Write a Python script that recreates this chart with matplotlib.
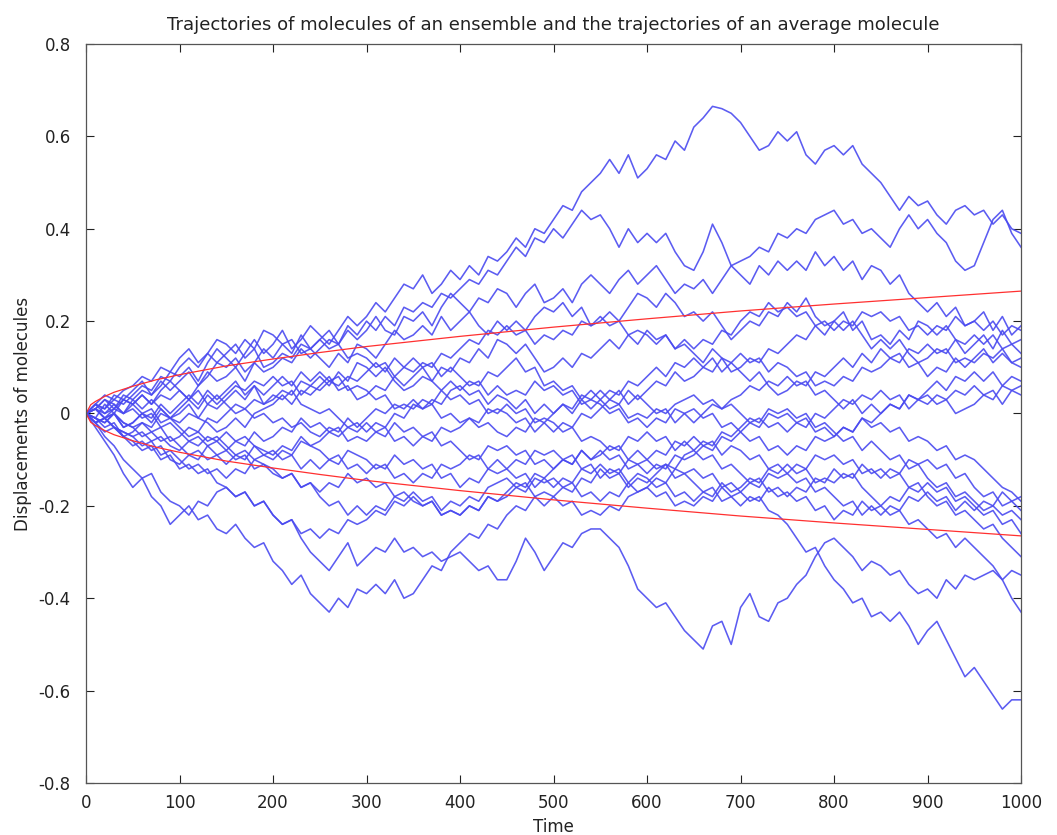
import numpy as np
import matplotlib
matplotlib.use("Agg")
import matplotlib.pyplot as plt

plt.rcParams['font.family'] = ['DejaVu Sans']

# time grid of the traced samples (every 10 steps)
time = np.arange(0, 1001, 10)

# trajectories of the molecules, every 10 time steps
traj_a = [0,
    0.02, 0.01, 0.04, 0.03, 0.05, 0.07, 0.04, 0.06, 0.09, 0.08,
    0.10, 0.07, 0.11, 0.14, 0.12, 0.10, 0.13, 0.16, 0.13, 0.15,
    0.18, 0.14, 0.16, 0.19, 0.17, 0.15, 0.18, 0.21, 0.19, 0.21,
    0.24, 0.22, 0.25, 0.28, 0.27, 0.30, 0.26, 0.28, 0.31, 0.29,
    0.32, 0.30, 0.34, 0.33, 0.35, 0.38, 0.36, 0.40, 0.39, 0.42,
    0.45, 0.44, 0.48, 0.50, 0.52, 0.55, 0.52, 0.56, 0.51, 0.53,
    0.56, 0.55, 0.59, 0.57, 0.62, 0.64, 0.665, 0.66, 0.65, 0.63,
    0.60, 0.57, 0.58, 0.61, 0.59, 0.61, 0.56, 0.54, 0.57, 0.58,
    0.56, 0.58, 0.54, 0.52, 0.50, 0.47, 0.44, 0.47, 0.45, 0.46,
    0.43, 0.41, 0.44, 0.45, 0.43, 0.44, 0.41, 0.43, 0.40, 0.39]
traj_b = [0,
    0.01, 0.03, 0.02, 0.00, 0.03, 0.05, 0.04, 0.07, 0.05, 0.07,
    0.09, 0.06, 0.08, 0.11, 0.10, 0.12, 0.09, 0.11, 0.14, 0.12,
    0.15, 0.13, 0.17, 0.14, 0.16, 0.18, 0.15, 0.19, 0.17, 0.20,
    0.18, 0.21, 0.19, 0.23, 0.22, 0.24, 0.23, 0.26, 0.25, 0.27,
    0.29, 0.28, 0.31, 0.30, 0.33, 0.36, 0.34, 0.38, 0.37, 0.40,
    0.38, 0.41, 0.44, 0.42, 0.43, 0.40, 0.36, 0.40, 0.37, 0.39,
    0.37, 0.39, 0.35, 0.32, 0.31, 0.35, 0.41, 0.37, 0.32, 0.33,
    0.34, 0.36, 0.35, 0.39, 0.38, 0.40, 0.39, 0.42, 0.43, 0.44,
    0.41, 0.42, 0.39, 0.40, 0.38, 0.36, 0.40, 0.43, 0.40, 0.42,
    0.39, 0.37, 0.33, 0.31, 0.32, 0.37, 0.42, 0.44, 0.39, 0.36]
traj_c = [0,
    -0.01, 0.02, 0.00, 0.03, 0.02, 0.04, 0.02, 0.05, 0.07, 0.05,
    0.03, 0.06, 0.09, 0.07, 0.08, 0.10, 0.07, 0.11, 0.09, 0.10,
    0.12, 0.11, 0.14, 0.12, 0.14, 0.16, 0.15, 0.18, 0.16, 0.18,
    0.21, 0.18, 0.17, 0.21, 0.20, 0.22, 0.19, 0.23, 0.26, 0.24,
    0.22, 0.25, 0.24, 0.27, 0.26, 0.23, 0.26, 0.28, 0.24, 0.25,
    0.27, 0.24, 0.28, 0.30, 0.28, 0.26, 0.29, 0.31, 0.28, 0.30,
    0.32, 0.29, 0.26, 0.28, 0.27, 0.29, 0.26, 0.29, 0.32, 0.30,
    0.28, 0.32, 0.30, 0.33, 0.31, 0.33, 0.31, 0.35, 0.32, 0.34,
    0.31, 0.33, 0.29, 0.32, 0.31, 0.28, 0.30, 0.26, 0.24, 0.22,
    0.24, 0.21, 0.23, 0.19, 0.20, 0.22, 0.18, 0.21, 0.17, 0.19]
traj_d = [0,
    0.02, 0.04, 0.03, 0.05, 0.06, 0.08, 0.07, 0.10, 0.09, 0.12,
    0.14, 0.11, 0.13, 0.16, 0.15, 0.13, 0.16, 0.14, 0.18, 0.17,
    0.15, 0.16, 0.13, 0.14, 0.12, 0.10, 0.13, 0.11, 0.15, 0.14,
    0.12, 0.15, 0.18, 0.16, 0.17, 0.19, 0.17, 0.21, 0.18, 0.20,
    0.22, 0.19, 0.17, 0.20, 0.18, 0.20, 0.18, 0.21, 0.23, 0.22,
    0.24, 0.21, 0.23, 0.19, 0.20, 0.22, 0.20, 0.23, 0.26, 0.25,
    0.23, 0.26, 0.24, 0.21, 0.22, 0.20, 0.22, 0.19, 0.16, 0.18,
    0.20, 0.19, 0.22, 0.21, 0.24, 0.22, 0.25, 0.21, 0.19, 0.20,
    0.22, 0.18, 0.20, 0.16, 0.17, 0.15, 0.18, 0.16, 0.20, 0.19,
    0.17, 0.19, 0.16, 0.13, 0.15, 0.17, 0.14, 0.18, 0.15, 0.16]
traj_e = [0,
    0.01, -0.01, 0.00, -0.03, -0.02, 0.00, -0.01, 0.02, 0.00, 0.02,
    0.04, 0.02, 0.05, 0.03, 0.05, 0.07, 0.04, 0.06, 0.02, 0.03,
    0.05, 0.04, 0.07, 0.06, 0.08, 0.06, 0.09, 0.07, 0.11, 0.10,
    0.08, 0.10, 0.07, 0.05, 0.06, 0.08, 0.07, 0.10, 0.09, 0.12,
    0.11, 0.14, 0.12, 0.16, 0.15, 0.13, 0.15, 0.12, 0.09, 0.10,
    0.12, 0.10, 0.13, 0.12, 0.14, 0.16, 0.14, 0.17, 0.15, 0.18,
    0.16, 0.17, 0.14, 0.15, 0.13, 0.11, 0.14, 0.12, 0.09, 0.10,
    0.12, 0.11, 0.14, 0.13, 0.15, 0.17, 0.16, 0.19, 0.17, 0.20,
    0.18, 0.20, 0.17, 0.14, 0.16, 0.14, 0.16, 0.13, 0.11, 0.12,
    0.14, 0.13, 0.16, 0.15, 0.17, 0.15, 0.17, 0.14, 0.15, 0.13]
traj_f = [0,
    0.02, 0.00, 0.01, 0.04, 0.03, 0.01, 0.03, 0.01, -0.01, 0.00,
    0.02, -0.01, -0.02, -0.04, -0.03, -0.01, -0.03, 0.00, 0.01, 0.02,
    0.04, 0.02, 0.05, 0.04, 0.06, 0.08, 0.05, 0.06, 0.03, 0.04,
    0.06, 0.05, 0.08, 0.06, 0.08, 0.10, 0.07, 0.05, 0.07, 0.05,
    0.07, 0.06, 0.09, 0.08, 0.10, 0.12, 0.09, 0.10, 0.06, 0.07,
    0.05, 0.06, 0.03, 0.05, 0.03, 0.05, 0.04, 0.07, 0.06, 0.08,
    0.10, 0.08, 0.11, 0.10, 0.12, 0.10, 0.12, 0.09, 0.11, 0.09,
    0.07, 0.09, 0.06, 0.04, 0.05, 0.07, 0.06, 0.09, 0.08, 0.10,
    0.12, 0.10, 0.13, 0.11, 0.14, 0.12, 0.13, 0.10, 0.11, 0.08,
    0.10, 0.09, 0.12, 0.10, 0.12, 0.14, 0.11, 0.13, 0.11, 0.10]
traj_g = [0,
    -0.01, -0.02, 0.00, -0.02, -0.03, -0.02, -0.04, -0.03, -0.06, -0.05,
    -0.03, -0.04, -0.01, -0.02, 0.00, 0.02, 0.01, 0.03, 0.02, 0.04,
    0.03, 0.05, 0.02, 0.01, 0.00, 0.01, -0.01, -0.03, -0.02, -0.04,
    -0.02, -0.03, 0.00, -0.01, 0.02, 0.01, 0.03, 0.02, 0.05, 0.06,
    0.04, 0.05, 0.02, 0.04, 0.03, 0.01, 0.03, 0.00, 0.02, 0.00,
    0.02, 0.01, 0.04, 0.03, 0.05, 0.03, 0.05, 0.02, 0.04, 0.02,
    0.00, 0.01, -0.02, 0.00, -0.02, 0.00, 0.02, 0.01, 0.03, 0.04,
    0.06, 0.05, 0.07, 0.06, 0.08, 0.06, 0.07, 0.04, 0.05, 0.03,
    0.01, 0.03, 0.00, 0.02, 0.00, 0.02, 0.01, 0.04, 0.03, 0.05,
    0.07, 0.05, 0.08, 0.07, 0.09, 0.07, 0.09, 0.06, 0.08, 0.07]
traj_h = [0,
    0.01, -0.01, 0.01, 0.00, 0.02, 0.04, 0.02, 0.04, 0.03, 0.05,
    0.03, 0.05, 0.02, 0.04, 0.02, 0.00, 0.01, -0.01, 0.00, -0.02,
    -0.01, -0.03, -0.02, -0.04, -0.05, -0.03, -0.04, -0.01, -0.03, -0.01,
    0.01, 0.00, 0.02, 0.01, 0.03, 0.01, 0.02, -0.01, 0.00, -0.02,
    -0.01, -0.03, -0.02, -0.04, -0.05, -0.03, -0.04, -0.01, -0.02, 0.00,
    0.02, 0.00, 0.03, 0.01, 0.03, 0.01, 0.02, -0.01, 0.00, -0.01,
    0.01, 0.00, 0.02, 0.03, 0.04, 0.02, 0.03, 0.01, 0.02, 0.00,
    -0.02, -0.01, -0.03, -0.02, -0.04, -0.02, -0.03, 0.00, -0.01, 0.01,
    0.03, 0.02, 0.04, 0.03, 0.05, 0.03, 0.04, 0.01, 0.03, 0.02,
    0.04, 0.03, 0.05, 0.04, 0.06, 0.04, 0.05, 0.02, 0.05, 0.04]
traj_q = [0,
    0.02, 0.01, 0.03, 0.02, 0.04, 0.06, 0.05, 0.08, 0.07, 0.10,
    0.12, 0.10, 0.13, 0.11, 0.13, 0.15, 0.12, 0.14, 0.10, 0.11,
    0.13, 0.12, 0.15, 0.14, 0.16, 0.14, 0.15, 0.12, 0.13, 0.12,
    0.10, 0.11, 0.08, 0.10, 0.09, 0.11, 0.10, 0.13, 0.12, 0.14,
    0.16, 0.15, 0.18, 0.17, 0.19, 0.17, 0.18, 0.15, 0.17, 0.16,
    0.18, 0.17, 0.20, 0.19, 0.21, 0.19, 0.20, 0.17, 0.18, 0.17,
    0.15, 0.17, 0.14, 0.16, 0.14, 0.16, 0.15, 0.18, 0.17, 0.20,
    0.22, 0.21, 0.24, 0.22, 0.23, 0.21, 0.22, 0.19, 0.20, 0.18,
    0.20, 0.19, 0.22, 0.21, 0.22, 0.20, 0.21, 0.18, 0.19, 0.17,
    0.19, 0.18, 0.21, 0.19, 0.20, 0.18, 0.20, 0.17, 0.19, 0.18]
traj_r = [0,
    -0.01, -0.03, -0.02, -0.05, -0.04, -0.02, -0.03, 0.00, -0.01, -0.02,
    0.00, -0.01, 0.02, 0.01, 0.03, 0.05, 0.03, 0.06, 0.04, 0.06,
    0.08, 0.06, 0.09, 0.07, 0.09, 0.07, 0.08, 0.05, 0.06, 0.05,
    0.03, 0.04, 0.01, 0.02, 0.01, 0.03, 0.02, 0.05, 0.03, 0.04,
    0.02, 0.03, 0.00, 0.01, 0.00, -0.02, -0.01, -0.04, -0.02, -0.04,
    -0.02, -0.03, 0.00, -0.01, 0.01, 0.03, 0.02, 0.05, 0.03, 0.05,
    0.07, 0.06, 0.09, 0.07, 0.08, 0.10, 0.09, 0.12, 0.11, 0.13,
    0.11, 0.12, 0.09, 0.11, 0.10, 0.08, 0.09, 0.06, 0.07, 0.06,
    0.08, 0.07, 0.10, 0.09, 0.10, 0.12, 0.11, 0.14, 0.13, 0.15,
    0.13, 0.14, 0.11, 0.12, 0.11, 0.13, 0.12, 0.14, 0.11, 0.12]
traj_i = [0,
    0.01, -0.01, 0.00, -0.03, -0.02, 0.00, -0.02, 0.01, -0.01, 0.01,
    0.03, 0.01, 0.04, 0.02, 0.04, 0.06, 0.05, 0.07, 0.06, 0.08,
    0.06, 0.07, 0.04, 0.06, 0.05, 0.07, 0.06, 0.08, 0.07, 0.09,
    0.11, 0.09, 0.12, 0.10, 0.12, 0.10, 0.11, 0.08, 0.10, 0.08,
    0.06, 0.07, 0.04, 0.06, 0.04, 0.05, 0.04, 0.07, 0.05, 0.06,
    0.04, 0.05, 0.02, 0.03, 0.02, 0.00, 0.01, -0.02, -0.01, -0.03,
    -0.01, -0.02, 0.01, 0.00, 0.01, -0.01, 0.00, -0.03, -0.02, -0.04,
    -0.02, -0.03, 0.00, -0.01, 0.00, -0.02, -0.01, -0.04, -0.03, -0.05,
    -0.03, -0.04, -0.01, -0.03, -0.02, -0.04, -0.03, -0.06, -0.05, -0.06,
    -0.08, -0.07, -0.10, -0.09, -0.10, -0.12, -0.14, -0.16, -0.17, -0.19]
traj_j = [0,
    -0.02, -0.01, -0.03, -0.04, -0.05, -0.04, -0.06, -0.05, -0.07, -0.08,
    -0.06, -0.07, -0.05, -0.06, -0.04, -0.06, -0.05, -0.07, -0.08, -0.09,
    -0.07, -0.08, -0.05, -0.07, -0.06, -0.04, -0.05, -0.03, -0.04, -0.02,
    -0.04, -0.03, -0.06, -0.05, -0.07, -0.05, -0.06, -0.03, -0.04, -0.03,
    -0.01, -0.02, 0.01, 0.00, 0.02, 0.00, 0.01, -0.02, -0.01, -0.02,
    -0.04, -0.03, -0.06, -0.05, -0.06, -0.08, -0.07, -0.10, -0.08, -0.10,
    -0.08, -0.09, -0.06, -0.07, -0.05, -0.07, -0.06, -0.09, -0.07, -0.08,
    -0.10, -0.09, -0.12, -0.11, -0.13, -0.11, -0.12, -0.09, -0.10, -0.09,
    -0.11, -0.10, -0.13, -0.12, -0.14, -0.12, -0.13, -0.10, -0.11, -0.10,
    -0.12, -0.11, -0.14, -0.13, -0.16, -0.18, -0.17, -0.20, -0.19, -0.21]
traj_k = [0,
    -0.01, -0.02, 0.00, -0.02, -0.03, -0.05, -0.04, -0.06, -0.05, -0.07,
    -0.09, -0.08, -0.10, -0.09, -0.11, -0.09, -0.10, -0.07, -0.09, -0.08,
    -0.10, -0.09, -0.12, -0.10, -0.12, -0.10, -0.11, -0.08, -0.09, -0.10,
    -0.12, -0.11, -0.14, -0.13, -0.15, -0.13, -0.14, -0.11, -0.12, -0.11,
    -0.09, -0.10, -0.07, -0.08, -0.07, -0.09, -0.08, -0.11, -0.10, -0.12,
    -0.10, -0.11, -0.08, -0.10, -0.09, -0.07, -0.08, -0.05, -0.06, -0.04,
    -0.06, -0.05, -0.08, -0.06, -0.08, -0.06, -0.07, -0.04, -0.05, -0.03,
    -0.01, -0.02, 0.01, 0.00, 0.01, -0.01, 0.00, -0.03, -0.02, -0.04,
    -0.06, -0.05, -0.08, -0.06, -0.08, -0.10, -0.09, -0.12, -0.11, -0.14,
    -0.16, -0.15, -0.18, -0.17, -0.19, -0.21, -0.20, -0.22, -0.21, -0.23]
traj_l = [0,
    -0.02, -0.04, -0.03, -0.05, -0.07, -0.06, -0.08, -0.07, -0.10, -0.11,
    -0.09, -0.10, -0.07, -0.09, -0.08, -0.10, -0.09, -0.12, -0.11, -0.13,
    -0.14, -0.13, -0.16, -0.15, -0.17, -0.15, -0.16, -0.13, -0.15, -0.14,
    -0.16, -0.15, -0.18, -0.17, -0.19, -0.20, -0.19, -0.22, -0.21, -0.22,
    -0.20, -0.21, -0.18, -0.19, -0.18, -0.16, -0.17, -0.14, -0.15, -0.14,
    -0.16, -0.15, -0.18, -0.17, -0.19, -0.17, -0.18, -0.15, -0.17, -0.16,
    -0.14, -0.15, -0.12, -0.13, -0.12, -0.14, -0.13, -0.16, -0.15, -0.17,
    -0.15, -0.16, -0.13, -0.14, -0.13, -0.15, -0.14, -0.17, -0.16, -0.18,
    -0.20, -0.19, -0.22, -0.20, -0.22, -0.20, -0.21, -0.18, -0.19, -0.17,
    -0.19, -0.18, -0.21, -0.19, -0.21, -0.19, -0.20, -0.17, -0.19, -0.18]
traj_s = [0,
    0.01, 0.00, 0.02, 0.00, 0.01, -0.01, 0.00, -0.03, -0.02, -0.04,
    -0.06, -0.05, -0.07, -0.06, -0.08, -0.06, -0.07, -0.04, -0.06, -0.05,
    -0.03, -0.04, -0.01, -0.03, -0.02, -0.04, -0.03, -0.06, -0.05, -0.06,
    -0.04, -0.05, -0.02, -0.04, -0.03, -0.05, -0.04, -0.07, -0.06, -0.08,
    -0.10, -0.09, -0.12, -0.10, -0.12, -0.14, -0.13, -0.16, -0.14, -0.16,
    -0.14, -0.15, -0.12, -0.13, -0.11, -0.13, -0.12, -0.15, -0.13, -0.14,
    -0.16, -0.15, -0.18, -0.17, -0.19, -0.17, -0.18, -0.15, -0.17, -0.16,
    -0.14, -0.15, -0.12, -0.13, -0.11, -0.13, -0.12, -0.15, -0.14, -0.15,
    -0.13, -0.14, -0.11, -0.13, -0.12, -0.14, -0.13, -0.16, -0.15, -0.18,
    -0.20, -0.19, -0.22, -0.21, -0.23, -0.25, -0.24, -0.27, -0.29, -0.31]
traj_l3 = [0,
    -0.03, -0.06, -0.09, -0.13, -0.16, -0.14, -0.18, -0.20, -0.24, -0.22,
    -0.20, -0.23, -0.22, -0.25, -0.26, -0.24, -0.27, -0.29, -0.28, -0.32,
    -0.34, -0.37, -0.35, -0.39, -0.41, -0.43, -0.40, -0.42, -0.38, -0.39,
    -0.37, -0.39, -0.36, -0.40, -0.39, -0.36, -0.33, -0.34, -0.30, -0.28,
    -0.26, -0.27, -0.24, -0.25, -0.22, -0.20, -0.21, -0.18, -0.20, -0.18,
    -0.16, -0.17, -0.14, -0.15, -0.12, -0.14, -0.13, -0.16, -0.14, -0.15,
    -0.13, -0.11, -0.12, -0.09, -0.08, -0.10, -0.09, -0.12, -0.11, -0.13,
    -0.15, -0.14, -0.17, -0.16, -0.18, -0.16, -0.17, -0.14, -0.15, -0.12,
    -0.14, -0.13, -0.16, -0.18, -0.20, -0.18, -0.19, -0.16, -0.17, -0.15,
    -0.17, -0.16, -0.19, -0.18, -0.20, -0.22, -0.21, -0.24, -0.23, -0.26]
traj_l2 = [0,
    -0.02, -0.01, -0.03, -0.05, -0.06, -0.08, -0.07, -0.10, -0.09, -0.12,
    -0.11, -0.13, -0.12, -0.15, -0.16, -0.18, -0.17, -0.20, -0.19, -0.22,
    -0.24, -0.23, -0.27, -0.30, -0.32, -0.34, -0.31, -0.28, -0.33, -0.31,
    -0.29, -0.30, -0.27, -0.30, -0.29, -0.31, -0.30, -0.32, -0.31, -0.30,
    -0.32, -0.34, -0.33, -0.36, -0.36, -0.32, -0.27, -0.30, -0.34, -0.31,
    -0.28, -0.29, -0.26, -0.25, -0.25, -0.27, -0.29, -0.33, -0.38, -0.40,
    -0.42, -0.41, -0.44, -0.47, -0.49, -0.51, -0.46, -0.45, -0.50, -0.42,
    -0.39, -0.44, -0.45, -0.41, -0.40, -0.37, -0.35, -0.31, -0.28, -0.27,
    -0.29, -0.31, -0.34, -0.32, -0.33, -0.35, -0.34, -0.37, -0.39, -0.38,
    -0.40, -0.36, -0.38, -0.35, -0.36, -0.35, -0.34, -0.36, -0.34, -0.35]
traj_p = [0,
    0.01, 0.03, 0.01, 0.03, 0.02, 0.00, 0.01, -0.02, -0.01, -0.03,
    -0.05, -0.04, -0.06, -0.05, -0.07, -0.09, -0.08, -0.10, -0.09, -0.10,
    -0.08, -0.09, -0.06, -0.07, -0.08, -0.10, -0.09, -0.12, -0.11, -0.13,
    -0.11, -0.12, -0.09, -0.11, -0.10, -0.12, -0.11, -0.14, -0.13, -0.16,
    -0.14, -0.15, -0.12, -0.13, -0.12, -0.10, -0.11, -0.08, -0.09, -0.08,
    -0.10, -0.09, -0.12, -0.11, -0.14, -0.12, -0.13, -0.10, -0.11, -0.10,
    -0.12, -0.11, -0.14, -0.13, -0.15, -0.17, -0.16, -0.19, -0.18, -0.20,
    -0.18, -0.19, -0.16, -0.18, -0.17, -0.19, -0.18, -0.21, -0.20, -0.23,
    -0.21, -0.22, -0.19, -0.21, -0.20, -0.22, -0.21, -0.24, -0.23, -0.25,
    -0.27, -0.26, -0.29, -0.27, -0.29, -0.31, -0.33, -0.36, -0.40, -0.43]
traj_l1 = [0,
    -0.02, -0.01, -0.03, -0.04, -0.05, -0.07, -0.06, -0.09, -0.08, -0.10,
    -0.12, -0.11, -0.13, -0.12, -0.14, -0.12, -0.13, -0.10, -0.11, -0.12,
    -0.14, -0.13, -0.16, -0.15, -0.18, -0.20, -0.19, -0.22, -0.20, -0.22,
    -0.20, -0.21, -0.18, -0.19, -0.17, -0.19, -0.18, -0.21, -0.19, -0.20,
    -0.18, -0.19, -0.16, -0.15, -0.14, -0.16, -0.15, -0.18, -0.17, -0.18,
    -0.20, -0.19, -0.22, -0.21, -0.22, -0.20, -0.21, -0.18, -0.17, -0.16,
    -0.18, -0.17, -0.20, -0.19, -0.20, -0.18, -0.19, -0.16, -0.18, -0.17,
    -0.19, -0.18, -0.21, -0.22, -0.24, -0.27, -0.30, -0.29, -0.33, -0.36,
    -0.38, -0.41, -0.40, -0.44, -0.43, -0.45, -0.43, -0.46, -0.50, -0.47,
    -0.45, -0.49, -0.53, -0.57, -0.55, -0.58, -0.61, -0.64, -0.62, -0.62]
traj_t = [0,
    -0.02, -0.05, -0.07, -0.10, -0.12, -0.14, -0.13, -0.17, -0.19, -0.20,
    -0.22, -0.19, -0.20, -0.17, -0.16, -0.18, -0.17, -0.20, -0.19, -0.22,
    -0.24, -0.23, -0.26, -0.25, -0.27, -0.25, -0.26, -0.23, -0.24, -0.23,
    -0.21, -0.22, -0.19, -0.20, -0.18, -0.20, -0.19, -0.22, -0.21, -0.22,
    -0.20, -0.21, -0.18, -0.19, -0.17, -0.15, -0.16, -0.13, -0.14, -0.12,
    -0.10, -0.11, -0.08, -0.10, -0.08, -0.10, -0.09, -0.12, -0.11, -0.13,
    -0.11, -0.12, -0.09, -0.10, -0.09, -0.07, -0.08, -0.05, -0.06, -0.04,
    -0.06, -0.05, -0.08, -0.07, -0.09, -0.07, -0.08, -0.05, -0.06, -0.05,
    -0.03, -0.04, -0.01, -0.02, 0.00, 0.02, 0.01, 0.04, 0.03, 0.04,
    0.02, 0.03, 0.00, 0.01, 0.02, 0.04, 0.03, 0.06, 0.05, 0.06]

trajectories = [traj_a, traj_b, traj_c, traj_d, traj_e, traj_f, traj_g,
                traj_h, traj_q, traj_r, traj_i, traj_j, traj_k, traj_l,
                traj_s, traj_l3, traj_l2, traj_p, traj_l1, traj_t]

# envelope of the average molecule (red curves)
env_time = [0, 5, 10, 20, 30, 50, 75, 100, 150, 200, 250, 300, 400, 500,
            600, 700, 800, 900, 1000]
env_upper = [0, 0.019, 0.026, 0.037, 0.046, 0.059, 0.073, 0.084, 0.103, 0.118,
             0.132, 0.145, 0.167, 0.187, 0.205, 0.222, 0.237, 0.251, 0.265]
env_lower = [0, -0.019, -0.026, -0.037, -0.046, -0.059, -0.073, -0.084, -0.103,
             -0.118, -0.132, -0.145, -0.167, -0.187, -0.205, -0.222, -0.237,
             -0.251, -0.265]

xticks = list(range(0, 1001, 100))
yticks = [-0.8, -0.6, -0.4, -0.2, 0, 0.2, 0.4, 0.6, 0.8]
ytick_labels = ['-0.8', '-0.6', '-0.4', '-0.2', '0', '0.2', '0.4', '0.6', '0.8']

fig = plt.figure(figsize=(10.57, 8.35), dpi=100)
ax = fig.add_axes([0.0814, 0.0623, 0.8846, 0.8850])

for tr in trajectories:
    ax.plot(time, tr, color='#4a4af0', linewidth=1.15, alpha=0.9)
ax.plot(env_time, env_upper, color='#ff3030', linewidth=0.9)
ax.plot(env_time, env_lower, color='#ff3030', linewidth=0.9)

ax.set_xlim(0, 1000)
ax.set_ylim(-0.8, 0.8)
ax.set_xticks(xticks)
ax.set_yticks(yticks)
ax.set_yticklabels(ytick_labels)
ax.tick_params(direction='in', top=True, right=True, length=6, width=0.8,
               colors='#222222', labelsize=12)
ax.tick_params(axis='y', pad=11)
ax.tick_params(axis='x', pad=8)
for sp in ax.spines.values():
    sp.set_color('#555555')
    sp.set_linewidth(0.9)

ax.set_title('Trajectories of molecules of an ensemble and the trajectories of an average molecule',
             fontsize=13, pad=10, color='#222222')
ax.set_xlabel('Time', fontsize=12, labelpad=4, color='#222222')
ax.set_ylabel('Displacements of molecules', fontsize=12, labelpad=5, color='#222222')

fig.savefig('out.png', dpi=100)
